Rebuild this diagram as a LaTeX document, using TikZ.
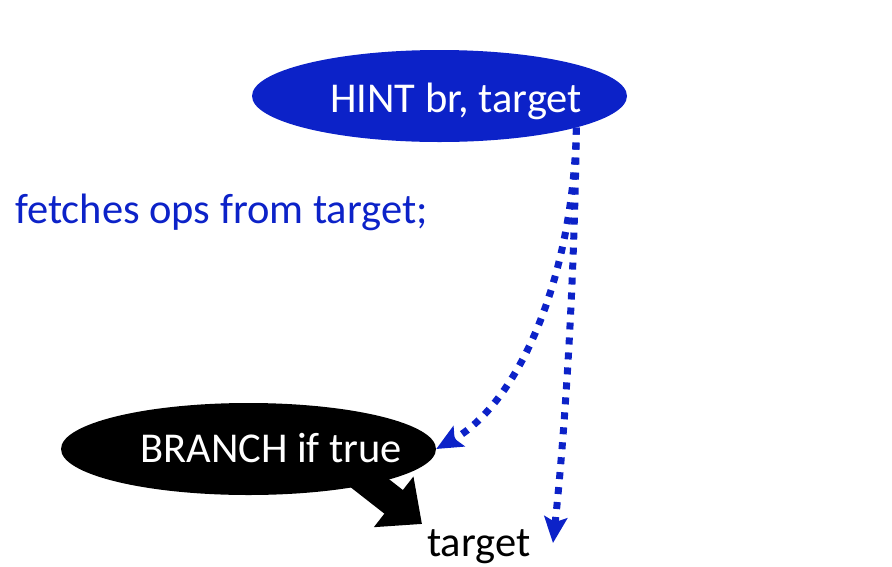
\documentclass[tikz,border=0pt]{standalone}
\usepackage{fontspec}
\setmainfont{Carlito}
\usetikzlibrary{shapes.geometric,arrows.meta,calc}
\definecolor{hintblue}{RGB}{12,34,200}
\tikzset{
  blob/.style={ellipse, minimum width=375pt, minimum height=92pt, inner sep=0pt},
  bigtext/.style={inner sep=0pt, font=\fontsize{42.5}{50}\selectfont},
  hintflow/.style={draw=hintblue, line width=7pt, dash pattern=on 7pt off 8pt,
    -{Stealth[length=26pt,width=23pt,inset=5pt]}},
  takenarrow/.style={draw=black, line width=30pt, -{Triangle[length=36pt,width=62pt]}}
}
\begin{document}
\begin{tikzpicture}[x=1pt,y=-1pt]
\useasboundingbox (0,0) rectangle (892,566);

% the two instruction bubbles
\node[blob, fill=hintblue] (hint) at (439.5,96) {};
\node[blob, fill=black] (branch) at (248.5,449) {};

% label beside the hint and the branch destination
\node[bigtext, text=hintblue, anchor=base west] (fetch) at (15,223) {fetches ops from target;};
\node[bigtext, anchor=base west] (target) at (427,556) {target};
\coordinate (tgtend) at (553,543);
\coordinate (takenstart) at ($(branch.center)+(98,16)$);
\coordinate (takentip) at (422,524);

% thick arrow for the taken branch
\draw[takenarrow] (takenstart) -- (takentip);

% bubble texts on top
\node[bigtext, text=white, anchor=base west] (hinttext) at (330,112) {HINT br, target};
\node[bigtext, text=white, anchor=base west] (branchtext) at (140,462) {BRANCH if true};

% dotted hint arrows
\draw[hintflow] (hint.-13.6) .. controls (574,300) and (564,440) .. (tgtend);
\draw[hintflow] (hint.-13.6) .. controls (573,285) and (515,405) .. (branch.east);
\end{tikzpicture}
\end{document}
